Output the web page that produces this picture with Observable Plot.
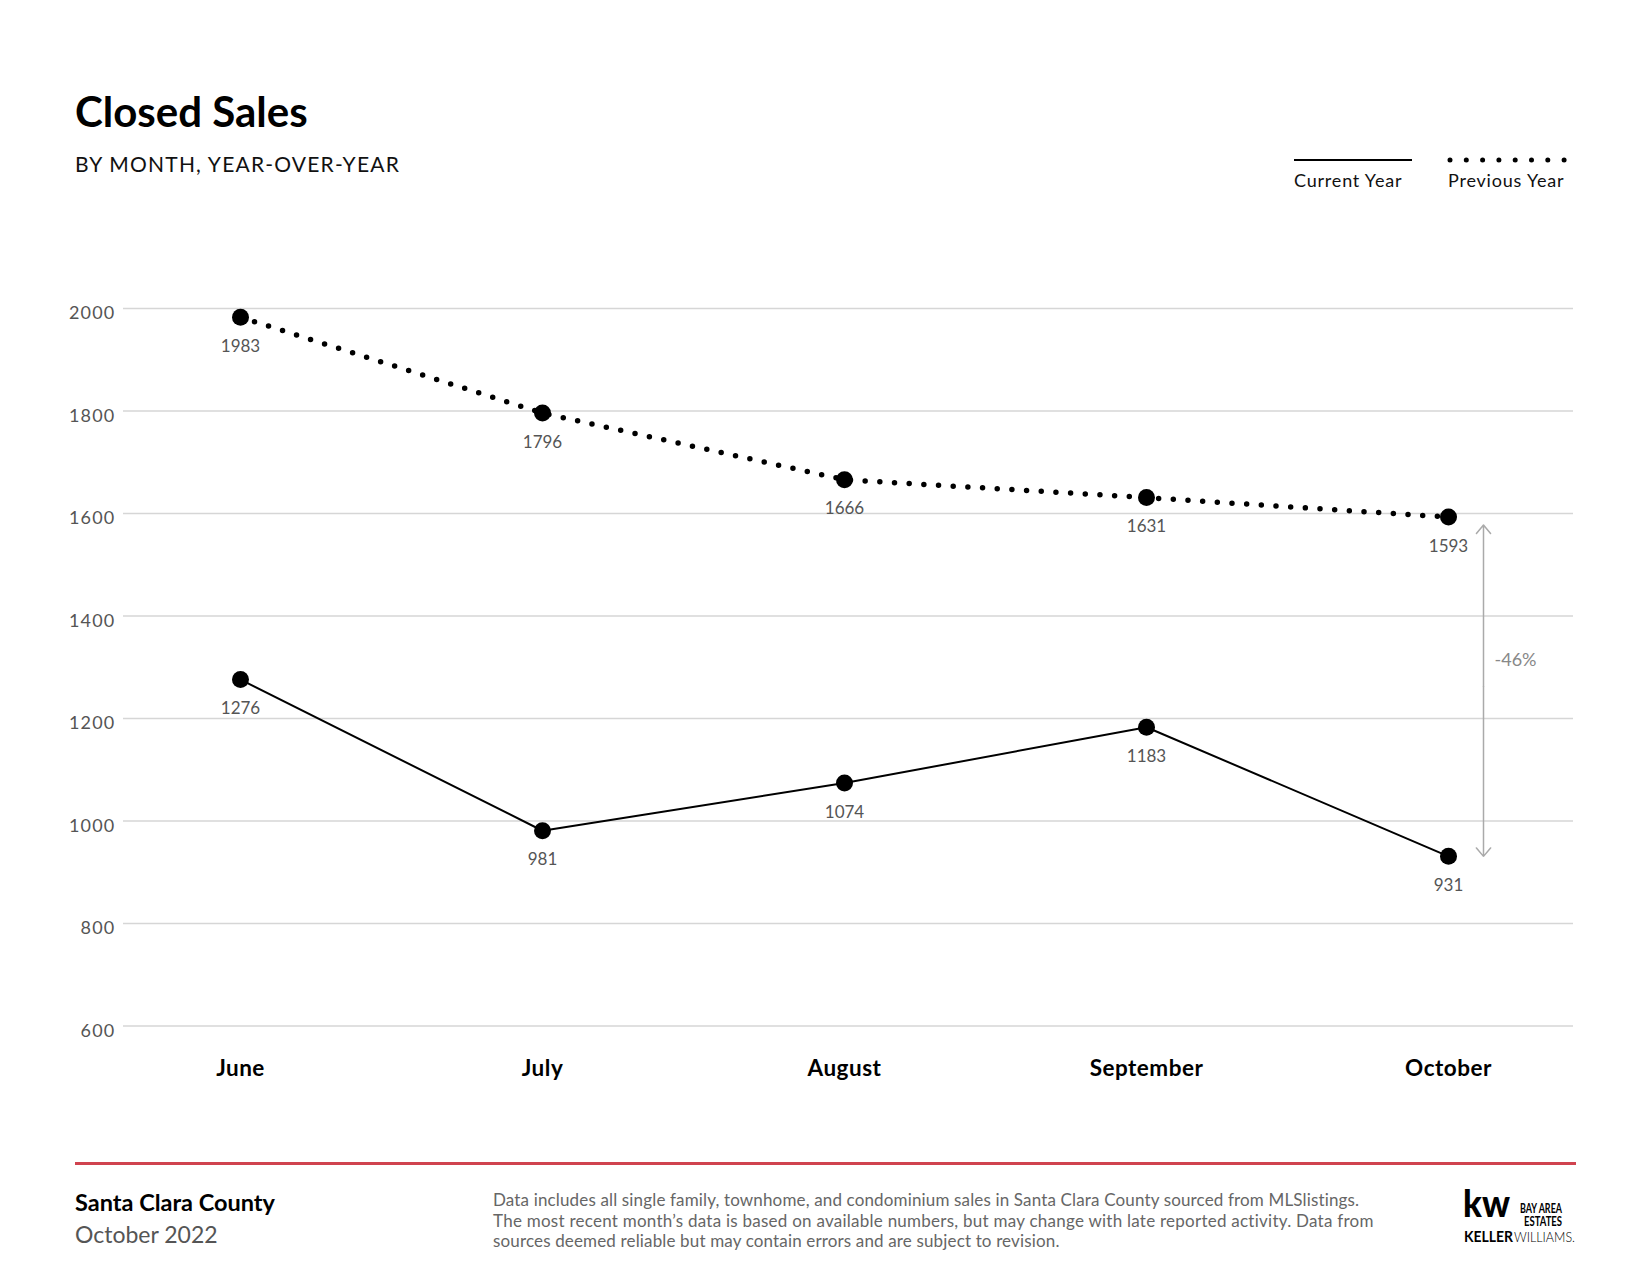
<!DOCTYPE html>
<html>
<head>
<meta charset="utf-8">
<script src="https://cdn.jsdelivr.net/npm/d3@7"></script>
<script src="https://cdn.jsdelivr.net/npm/@observablehq/plot@0.6"></script>
<style>
  html, body { margin: 0; padding: 0; background: #fff; }
  #page { position: relative; width: 1650px; height: 1275px; background: #fff; font-family: Lato, "Open Sans", sans-serif; color: #000; overflow: hidden; }
  .abs { position: absolute; white-space: nowrap; line-height: 1; }
  #chart { position: absolute; left: 0; top: 250px; }
  #chart svg { font-family: Lato, "Open Sans", sans-serif; }
  #chart g[aria-label="y-axis tick label"] { letter-spacing: 1.2px; }
  #chart g[aria-label="x-axis tick label"] { letter-spacing: 0.5px; }
</style>
</head>
<body>
<div id="page">
  <div class="abs" style="left:75px; top:90px; font-size:42px; font-weight:700;">Closed Sales</div>
  <div class="abs" style="left:75px; top:153px; font-size:21px; letter-spacing:1.2px; color:#111;">BY MONTH, YEAR-OVER-YEAR</div>

  <svg class="abs" style="left:1280px; top:150px;" width="300" height="20">
    <line x1="14" x2="132" y1="10" y2="10" stroke="#000" stroke-width="2"></line>
    <line x1="170" x2="284.5" y1="10" y2="10" stroke="#000" stroke-width="5" stroke-linecap="round" stroke-dasharray="0 16.3"></line>
  </svg>
  <div class="abs" style="left:1294px; top:171px; font-size:18px; letter-spacing:0.8px; color:#111;">Current Year</div>
  <div class="abs" style="left:1448px; top:171px; font-size:18px; letter-spacing:0.8px; color:#111;">Previous Year</div>

  <div id="chart"></div>

  <div class="abs" style="left:75px; top:1162px; width:1501px; height:2.5px; background:#d0434f;"></div>
  <div class="abs" style="left:75px; top:1191px; font-size:23.5px; font-weight:700;">Santa Clara County</div>
  <div class="abs" style="left:75px; top:1223px; font-size:23px; color:#555;">October 2022</div>
  <div class="abs" style="left:493px; top:1190px; font-size:17px; letter-spacing:0.15px; line-height:20.7px; color:#666;">Data includes all single family, townhome, and condominium sales in Santa Clara County sourced from MLSlistings.<br><span style="letter-spacing:0.25px">The most recent month’s data is based on available numbers, but may change with late reported activity. Data from</span><br>sources deemed reliable but may contain errors and are subject to revision.</div>

  <div class="abs" style="left:1463px; top:1184px; font-size:33px; font-weight:900; transform-origin:0 0; transform:scale(1.05,1.15);">kw</div>
  <svg class="abs" style="left:1460px; top:1170px;" width="130" height="80">
    <text x="60" y="43" font-family="Lato, sans-serif" font-weight="700" font-size="14" textLength="42" lengthAdjust="spacingAndGlyphs" fill="#000">BAY AREA</text>
    <text x="64" y="56" font-family="Lato, sans-serif" font-weight="700" font-size="14" textLength="38" lengthAdjust="spacingAndGlyphs" fill="#000">ESTATES</text>
    <text x="4" y="71.5" font-family="Lato, sans-serif" font-weight="700" font-size="14.5" textLength="49" lengthAdjust="spacingAndGlyphs" fill="#000">KELLER</text>
    <text x="54" y="71.5" font-family="Lato, sans-serif" font-weight="300" font-size="14.5" textLength="61" lengthAdjust="spacingAndGlyphs" fill="#000">WILLIAMS.</text>
  </svg>
</div>

<script>
// ---- data ----
const months = ["June", "July", "August", "September", "October"];
const currentYear = [1276, 981, 1074, 1183, 931];
const previousYear = [1983, 1796, 1666, 1631, 1593];
const yTicks = [600, 800, 1000, 1200, 1400, 1600, 1800, 2000];
const changeLabel = "-46%";

// ---- tables ----
const cur = months.map((m, i) => ({month: m, value: currentYear[i], series: "Current Year"}));
const prev = months.map((m, i) => ({month: m, value: previousYear[i], series: "Previous Year"}));
const all = cur.concat(prev);
const last = months.length - 1;
const mid = (currentYear[last] + previousYear[last]) / 2;
const arrowUp = [{month: months[last], from: mid, to: previousYear[last]}];
const arrowDown = [{month: months[last], from: mid, to: currentYear[last]}];

const chart = Plot.plot({
  width: 1650,
  height: 850,
  marginTop: 58,
  marginBottom: 74.5,
  marginLeft: 123,
  marginRight: 77,
  style: {background: "transparent", fontFamily: "Lato, 'Open Sans', sans-serif", overflow: "visible"},
  x: {type: "point", domain: months, padding: 0.3947, align: 0.485},
  y: {domain: [600, 2000]},
  marks: [
    Plot.gridY(yTicks, {stroke: "#d6d6d6", strokeOpacity: 1, strokeWidth: 1.3}),
    Plot.axisY(yTicks, {tickSize: 0, tickPadding: 8, fontSize: 18, color: "#555", dy: 5, label: null, tickFormat: d => String(d)}),
    Plot.axisX({tickSize: 0, tickPadding: 34, fontSize: 22.5, fontWeight: "bold", color: "#000", label: null}),
    Plot.line(cur, {x: "month", y: "value", stroke: "#000", strokeWidth: 2}),
    Plot.line(prev, {x: "month", y: "value", stroke: "#000", strokeWidth: 5.5, strokeLinecap: "round", strokeDasharray: "0 14.7"}),
    Plot.dot(all, {x: "month", y: "value", r: 8.5, fill: "#000"}),
    Plot.text(all, {x: "month", y: "value", text: d => String(d.value), dy: 29, fontSize: 17, fill: "#555"}),
    Plot.arrow(arrowUp, {x1: "month", x2: "month", y1: "from", y2: "to", dx: 35, stroke: "#aaa", strokeWidth: 1.5, headLength: 11, headAngle: 80, insetEnd: 8}),
    Plot.arrow(arrowDown, {x1: "month", x2: "month", y1: "from", y2: "to", dx: 35, stroke: "#aaa", strokeWidth: 1.5, headLength: 11, headAngle: 80}),
    Plot.text([{month: months[last], y: mid}], {x: "month", y: "y", text: () => changeLabel, dx: 46, dy: -26, textAnchor: "start", fontSize: 18, fill: "#888"})
  ]
});
document.getElementById("chart").appendChild(chart);
</script>
</body>
</html>
